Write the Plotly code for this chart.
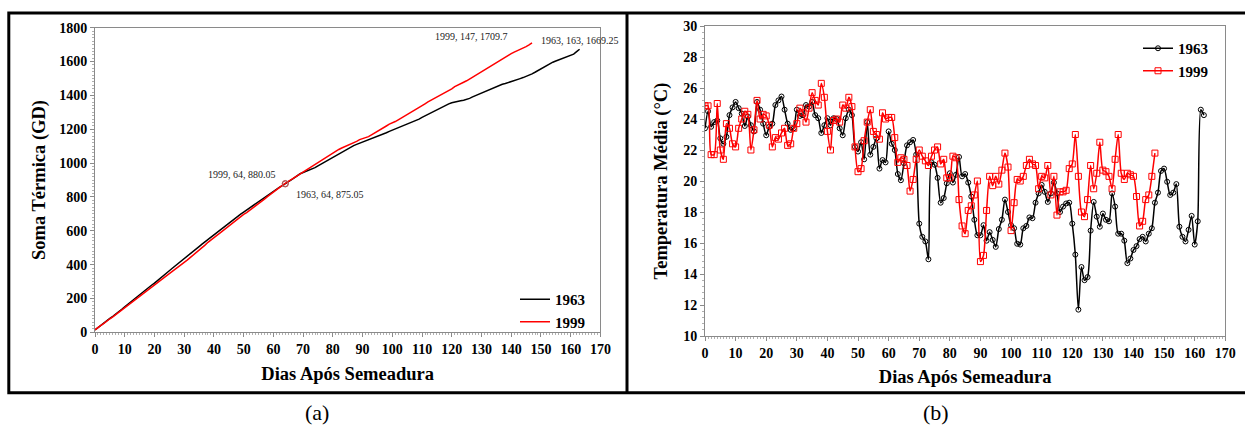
import numpy as np
import plotly.graph_objects as go

# ---------------- data ----------------
base_temp = 10.0

temp_1963 = [
    23.4, 24.5, 23.5, 23.8, 23.9, 22.75, 22.4, 22.85, 24.25, 24.75,
    25.1, 24.7, 24.35, 23.55, 24.15, 23.6, 23.2, 25.1, 24.6, 23.7,
    22.95, 23.5, 23.7, 24.9, 25.2, 25.45, 24.6, 23.7, 23.3, 23.4,
    24.6, 24.2, 24.25, 24.9, 24.8, 25.1, 24.25, 24.05, 23.1, 23.6,
    24.05, 23.6, 24.05, 24.0, 23.4, 22.95, 24.05, 24.6, 24.25, 22.2,
    21.9, 22.5, 21.4, 23.8, 21.7, 22.2, 22.75, 20.8, 21.35, 21.2,
    23.2, 22.4, 22.0, 20.45, 20.05, 21.15, 22.3, 22.5, 22.65, 21.7,
    17.25, 16.4, 16.1, 14.95, 21.2, 21.05, 20.2, 18.6, 18.9, 19.85,
    20.5, 19.9, 20.4, 21.55, 20.3, 20.45, 19.9, 19.0, 17.5, 16.5,
    16.5, 17.15, 16.15, 16.7, 16.2, 15.75, 16.9, 17.5, 18.8, 18.0,
    17.15, 16.95, 15.95, 15.9, 16.95, 17.1, 17.65, 17.6, 18.6, 19.2,
    19.75, 19.3, 18.65, 19.2, 19.9, 19.2, 18.0, 18.35, 18.55, 18.6,
    17.25, 15.25, 11.7, 14.45, 13.6, 13.8, 16.8, 18.65, 17.7, 17.05,
    17.9, 17.5, 17.4, 19.2, 18.35, 16.6, 16.6, 16.15, 14.7, 15.0,
    15.55, 15.8, 16.25, 16.4, 16.1, 16.6, 16.95, 18.6, 19.25, 20.65,
    20.8, 19.95, 19.1, 19.25, 19.8, 17.05, 16.4, 16.1, 16.85, 17.75,
    15.9, 17.4, 24.6, 24.25,
]

temp_1999 = [
    24.85, 24.85, 21.7, 21.7, 25.0, 22.0, 21.4, 23.7, 23.4, 22.4,
    22.2, 23.4, 24.0, 24.5, 24.3, 22.0, 23.3, 25.2, 24.0, 24.3,
    24.2, 23.6, 22.2, 22.8, 22.7, 23.1, 23.4, 22.3, 22.4, 23.4,
    23.7, 24.7, 24.4, 23.8, 24.7, 25.7, 25.2, 24.9, 26.3, 25.4,
    23.2, 22.0, 23.9, 24.0, 23.8, 24.9, 24.7, 25.4, 24.8, 22.2,
    20.6, 20.8, 22.6, 23.8, 24.6, 23.2, 23.0, 22.7, 24.4, 24.0,
    24.1, 24.1, 22.8, 21.2, 21.5, 21.4, 21.0, 19.35, 20.1, 21.4,
    22.0, 21.6, 21.3, 21.0, 21.6, 22.0, 22.2, 21.1, 21.4, 20.2,
    20.2, 21.6, 21.5, 18.8, 17.1, 16.6, 18.1, 18.4, 19.1, 20.0,
    14.8, 15.2, 18.1, 20.3, 19.7, 20.3, 19.8, 20.7, 21.8, 20.9,
    16.8, 18.6, 20.1, 20.0, 20.3, 21.0, 21.4, 21.1, 21.0, 19.5,
    20.3, 20.2, 21.0, 19.1, 20.3, 17.8, 19.3, 19.3, 19.4, 20.8,
    21.1, 23.0, 20.3, 18.0, 17.7, 18.8, 21.0, 19.5, 20.5, 22.5,
    20.7, 20.6, 20.3, 19.5, 21.4, 23.0, 20.5, 20.1, 20.5, 20.4,
    20.3, 19.0, 17.1, 17.4, 18.8, 19.1, 20.3, 21.8,
]

days_1963 = list(range(len(temp_1963)))
days_1999 = list(range(len(temp_1999)))

# thermal sum (degree-days) derived from daily means
gd_1963 = np.cumsum(np.array(temp_1963) - base_temp)
gd_1999 = np.cumsum(np.array(temp_1999) - base_temp)

labels = [
    # (x, y, text)
    (147, 1709.7, "1999, 147, 1709.7"),
    (163, 1669.25, "1963, 163, 1669.25"),
    (64, 880.05, "1999, 64, 880.05"),
    (64, 875.05, "1963, 64, 875.05"),
]

W, H = 1245, 426
FONT = "Liberation Serif"
AXIS_GRAY = "#8a8a8a"


def px(x):
    return x / W


def py(y):
    return (H - y) / H


fig = go.Figure()

# ---------- panel (a) ----------
fig.add_trace(go.Scatter(x=days_1963, y=gd_1963, mode="lines", name="1963",
                         line=dict(color="black", width=1.5),
                         xaxis="x", yaxis="y", legend="legend"))
fig.add_trace(go.Scatter(x=days_1999, y=gd_1999, mode="lines", name="1999",
                         line=dict(color="#ff0000", width=1.5),
                         xaxis="x", yaxis="y", legend="legend"))
fig.add_trace(go.Scatter(x=[64, 64], y=[gd_1963[64], gd_1999[64]], mode="markers",
                         marker=dict(symbol="circle-open", size=6, color="#b05050",
                                     line=dict(width=1)),
                         showlegend=False, hoverinfo="skip", xaxis="x", yaxis="y"))

# ---------- panel (b) ----------
fig.add_trace(go.Scatter(x=days_1963, y=temp_1963, mode="lines+markers", name="1963",
                         line=dict(color="black", width=1.5, shape="spline", smoothing=0.7),
                         marker=dict(symbol="circle-open", size=5, color="black",
                                     line=dict(width=1)),
                         xaxis="x2", yaxis="y2", legend="legend2"))
fig.add_trace(go.Scatter(x=days_1999, y=temp_1999, mode="lines+markers", name="1999",
                         line=dict(color="#ff0000", width=1.5, shape="spline", smoothing=0.7),
                         marker=dict(symbol="square-open", size=6, color="#ff0000",
                                     line=dict(width=1)),
                         xaxis="x2", yaxis="y2", legend="legend2"))

tickfont = dict(family=FONT, size=14, color="black", weight="bold")
titlefont = dict(family=FONT, size=18.5, color="black", weight="bold")

common_axis = dict(showline=True, linecolor=AXIS_GRAY, linewidth=1, mirror=True,
                   ticks="outside", ticklen=4, tickcolor=AXIS_GRAY, tickwidth=1,
                   showgrid=False, zeroline=False, tickfont=tickfont, fixedrange=True,
                   automargin=False)

fig.update_layout(
    width=W, height=H,
    autosize=False,
    margin=dict(l=0, r=0, t=0, b=0, pad=0, autoexpand=False),
    paper_bgcolor="white", plot_bgcolor="white",
    font=dict(family=FONT, color="black"),
    xaxis=dict(domain=[px(95), px(600.4)], range=[0, 170], dtick=10, anchor="y",
               title=dict(text="Dias Após Semeadura", font=titlefont, standoff=10),
               minor=dict(dtick=1, ticks="outside", ticklen=2, tickcolor="#b0b0b0"),
               **common_axis),
    yaxis=dict(domain=[py(332.3), py(27.7)], range=[0, 1800], dtick=200, anchor="x",
               title=dict(text="Soma Térmica (GD)", font=titlefont, standoff=8),
               minor=dict(dtick=20, ticks="outside", ticklen=2, tickcolor="#b0b0b0"),
               **common_axis),
    xaxis2=dict(domain=[px(705), px(1225.3)], range=[0, 170], dtick=10, anchor="y2",
                title=dict(text="Dias Após Semeadura", font=titlefont, standoff=10),
                minor=dict(dtick=1, ticks="outside", ticklen=2, tickcolor="#b0b0b0"),
                **common_axis),
    yaxis2=dict(domain=[py(336), py(26)], range=[10, 30], dtick=2, anchor="x2",
                title=dict(text="Temperatura Média (°C)", font=titlefont, standoff=10),
                minor=dict(dtick=0.4, ticks="outside", ticklen=2, tickcolor="#b0b0b0"),
                **common_axis),
    legend=dict(x=px(515), y=py(283), xanchor="left", yanchor="top",
                bgcolor="rgba(0,0,0,0)", itemwidth=30,
                font=dict(family=FONT, size=15, color="black", weight="bold"),
                tracegroupgap=0),
    legend2=dict(x=px(1138), y=py(32), xanchor="left", yanchor="top",
                 bgcolor="rgba(0,0,0,0)", itemwidth=30,
                 font=dict(family=FONT, size=15, color="black", weight="bold"),
                 tracegroupgap=0),
    showlegend=True,
)

# data labels in panel (a)
label_offsets = {
    "1999, 147, 1709.7": dict(xanchor="right", xshift=-22, yshift=6),
    "1963, 163, 1669.25": dict(xanchor="center", xshift=0, yshift=9),
    "1999, 64, 880.05": dict(xanchor="right", xshift=-7, yshift=9),
    "1963, 64, 875.05": dict(xanchor="left", xshift=9, yshift=-10),
}
for lx, ly, txt in labels:
    fig.add_annotation(x=lx, y=ly, xref="x", yref="y", text=txt, showarrow=False,
                       font=dict(family=FONT, size=10, color="#222222"),
                       yanchor="middle", **label_offsets[txt])

# panel captions
fig.add_annotation(x=px(317), y=py(412), xref="paper", yref="paper", text="(a)",
                   showarrow=False, font=dict(family=FONT, size=22, color="black"),
                   xanchor="center", yanchor="middle")
fig.add_annotation(x=px(936), y=py(412), xref="paper", yref="paper", text="(b)",
                   showarrow=False, font=dict(family=FONT, size=22, color="black"),
                   xanchor="center", yanchor="middle")

# outer frame (right edge runs off the page, as in the reference) and divider
fig.add_shape(type="rect", xref="paper", yref="paper",
              x0=px(8.8), x1=px(1252), y0=py(392.7), y1=py(13),
              line=dict(color="black", width=3), fillcolor="rgba(0,0,0,0)")
fig.add_shape(type="line", xref="paper", yref="paper",
              x0=px(627), x1=px(627), y0=py(392.7), y1=py(13),
              line=dict(color="black", width=3))

fig.write_html("out.html",
               config={"displayModeBar": False},
               post_script="document.body.style.margin='0';"
                           "document.body.style.overflow='hidden';")
